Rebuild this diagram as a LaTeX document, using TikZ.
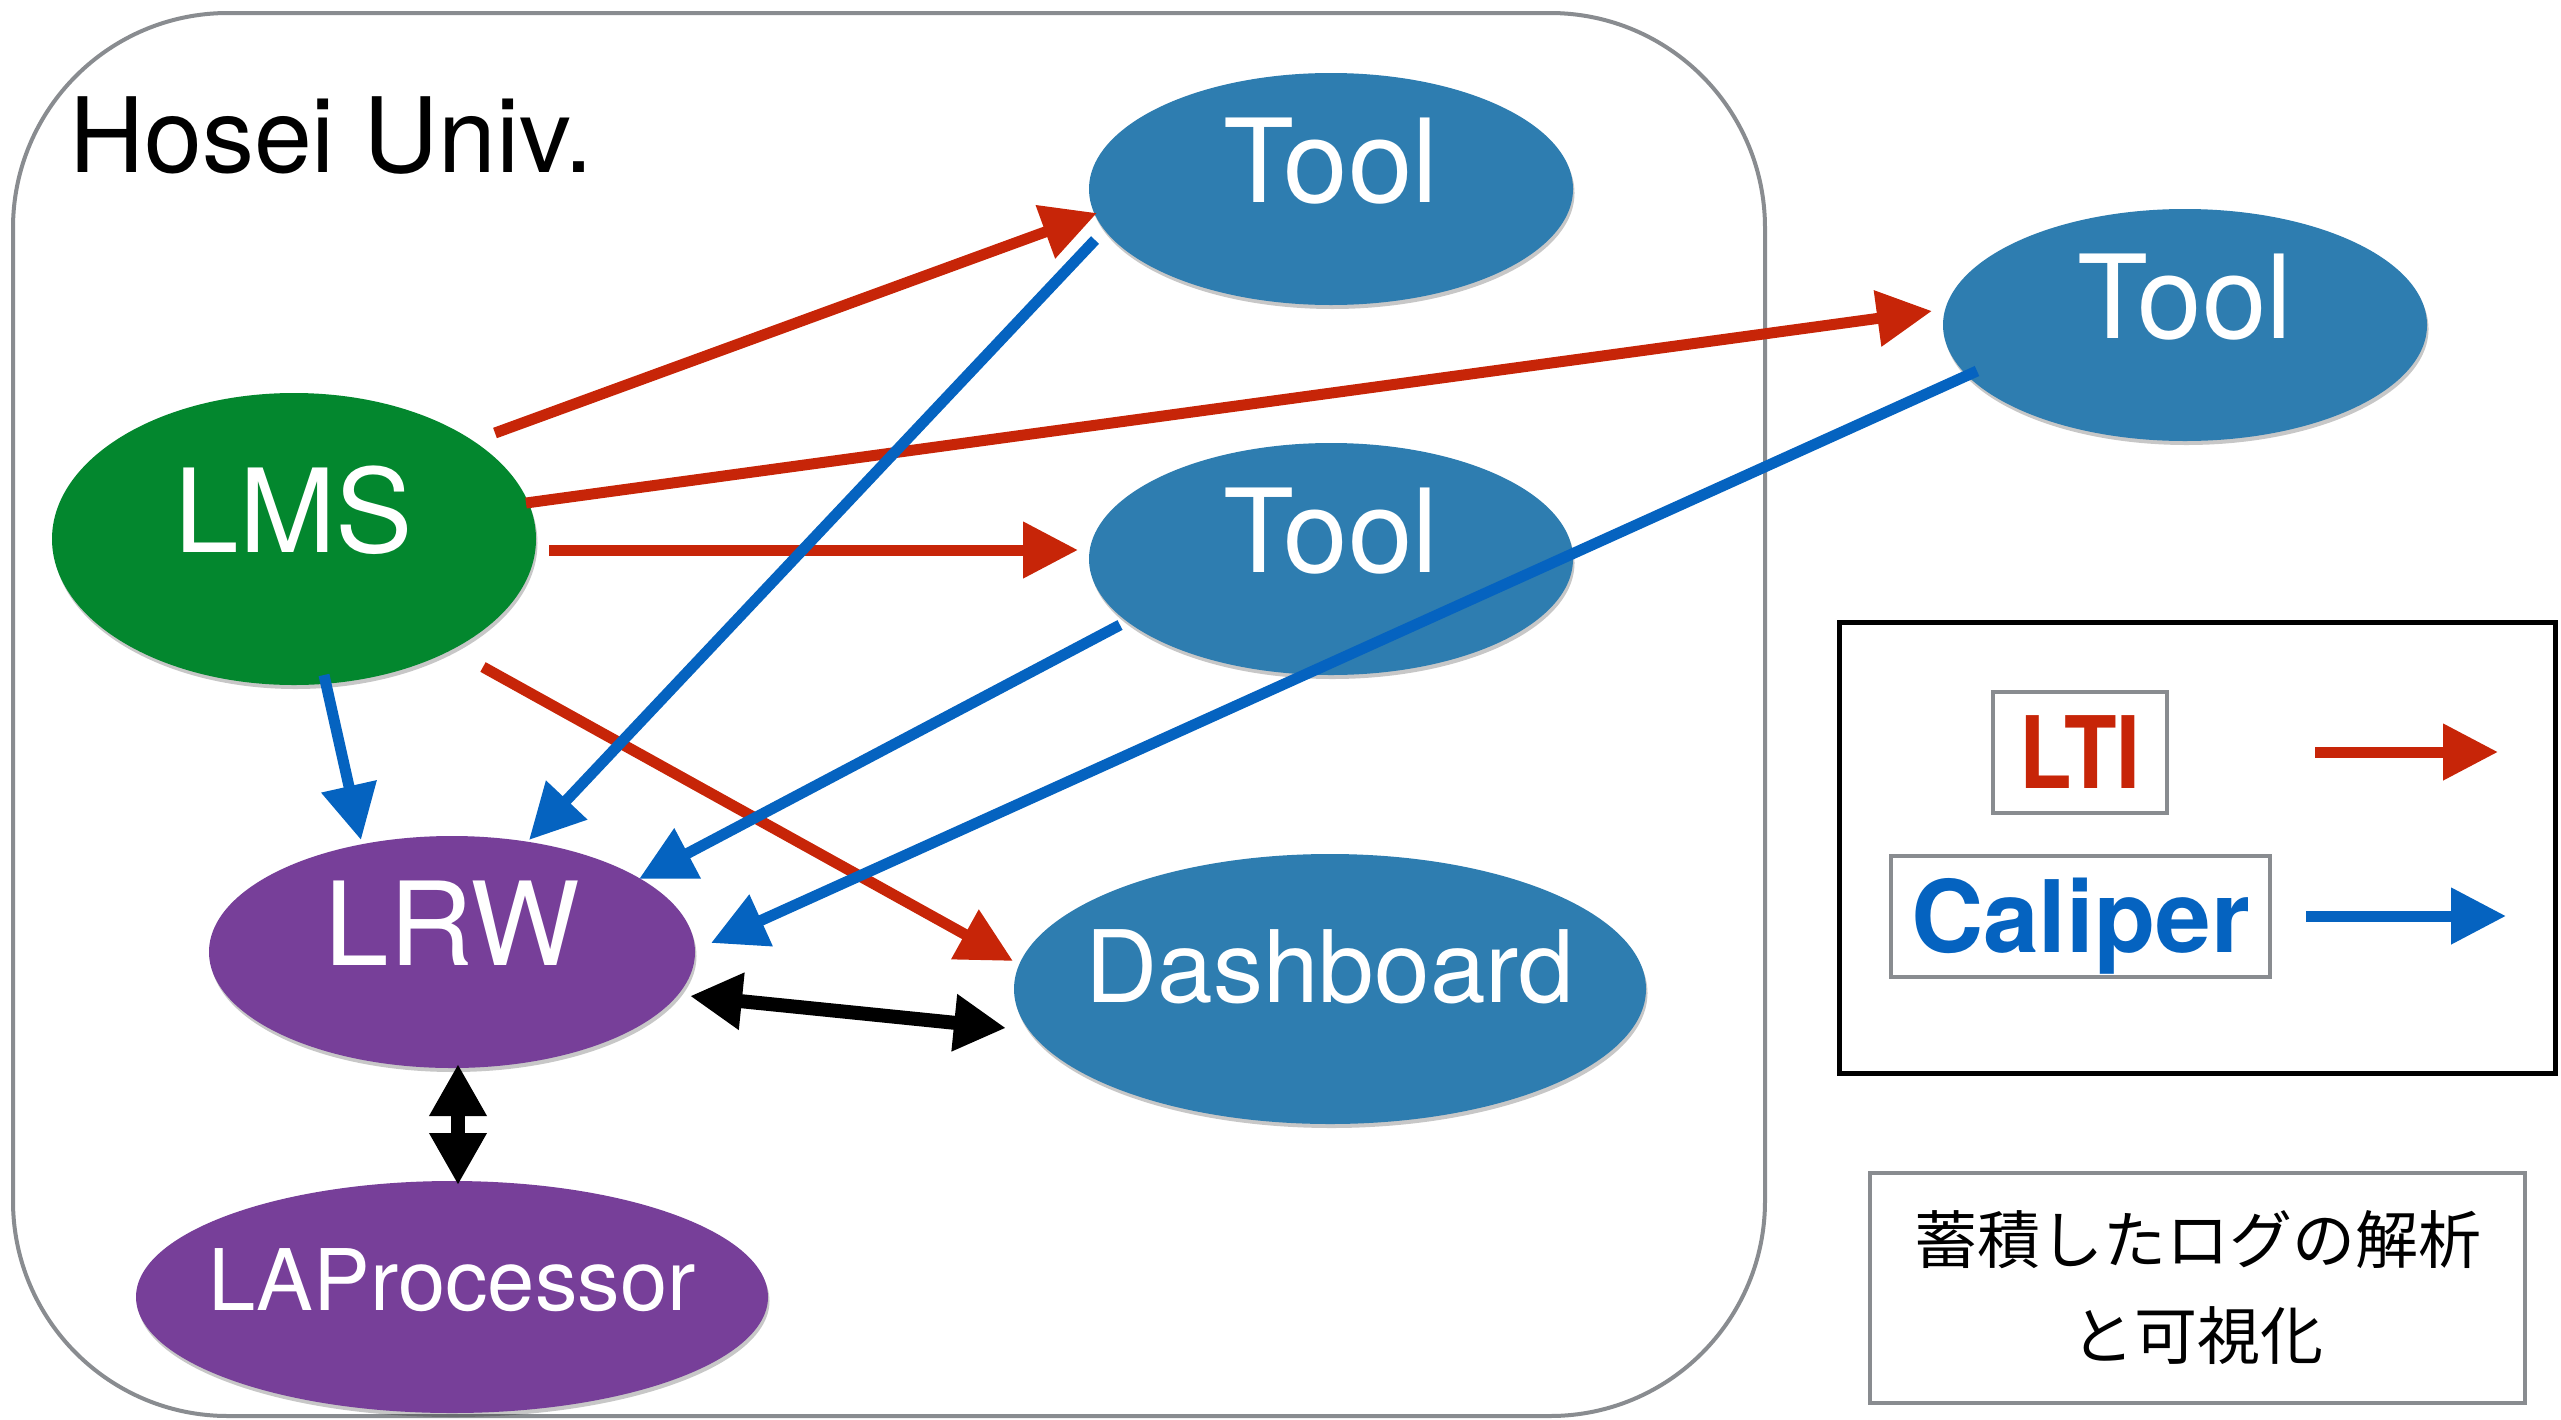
\documentclass[tikz,border=0pt]{standalone}
\usepackage{fontspec}
\usepackage{graphicx}
\setmainfont{TeX Gyre Heros}
\newfontfamily\jpfont{Noto Sans CJK JP}
\usetikzlibrary{shapes.geometric,arrows.meta,shadows}
\definecolor{toolblue}{RGB}{46,125,176}
\definecolor{lmsgreen}{RGB}{3,135,46}
\definecolor{lrwpurple}{RGB}{119,63,153}
\definecolor{ltired}{RGB}{199,37,8}
\definecolor{calblue}{RGB}{5,99,192}
\definecolor{framegray}{RGB}{137,140,144}
\newcommand{\nodetext}[1]{\raisebox{-13pt}[0pt][0pt]{\makebox[0pt]{#1}}}
\begin{document}
\begin{tikzpicture}[x=1pt,y=-1pt,
  ell/.style={ellipse, inner sep=0pt, outer sep=0pt, text=white,
    drop shadow={shadow xshift=1.5pt, shadow yshift=-4pt, opacity=0.22, fill=black}},
  bigtext/.style={font=\fontsize{116}{120}\selectfont},
  toolnode/.style={ell, bigtext, fill=toolblue, minimum width=484pt, minimum height=232pt},
  lmsnode/.style={ell, bigtext, fill=lmsgreen, minimum width=484pt, minimum height=292pt},
  lrwnode/.style={ell, bigtext, fill=lrwpurple, minimum width=486pt, minimum height=232pt},
  dashnode/.style={ell, fill=toolblue, minimum width=632pt, minimum height=270pt, font=\fontsize{100}{110}\selectfont},
  lapnode/.style={ell, fill=lrwpurple, minimum width=632pt, minimum height=232pt, font=\fontsize{85}{95}\selectfont},
  ltiarrow/.style={draw=ltired, line width=11pt, -{Triangle[length=55pt,width=54pt]}},
  caliarrow/.style={draw=calblue, line width=11pt, -{Triangle[length=55pt,width=54pt]}},
  bothway/.style={draw=black, line width=14pt, {Triangle[length=52pt,width=54pt]}-{Triangle[length=52pt,width=54pt]}},
  keybox/.style={draw=framegray, line width=4pt, minimum height=121pt, inner sep=0pt,
    font=\bfseries\fontsize{100}{100}\selectfont, text height=72pt, text depth=0pt}
]
\useasboundingbox (0,0) rectangle (2561,1419);
\fill[white] (0,0) rectangle (2561,1419);

% institution frame
\draw[framegray, line width=4pt, rounded corners=215pt] (13,13) rectangle (1765,1416);
\node[anchor=base west, inner sep=0pt, font=\fontsize{104}{110}\selectfont] (hosei) at (69,172) {Hosei Univ.};

% nodes
\node[toolnode] (tool1) at (1331,189) {\nodetext{Tool}};
\node[toolnode] (tool2) at (2185,325) {\nodetext{Tool}};
\node[toolnode] (tool3) at (1331,559) {\nodetext{Tool}};
\node[lmsnode] (lms) at (294,539) {\nodetext{LMS}};
\node[lrwnode] (lrw) at (452,952) {\nodetext{LRW}};
\node[dashnode] (dash) at (1330,989) {\nodetext{Dashboard}};
\node[lapnode] (lap) at (452,1297) {\nodetext{LAProcessor}};

% LTI connectors
\draw[ltiarrow] ([shift={(201,-106)}]lms.center) -- ([shift={(-234,24)}]tool1.center);
\draw[ltiarrow] ([shift={(232,-36)}]lms.center) -- ([shift={(-253,-14)}]tool2.center);
\draw[ltiarrow] ([shift={(255,11)}]lms.center) -- ([shift={(-253,-9)}]tool3.center);
\draw[ltiarrow] ([shift={(189,128)}]lms.center) -- ([shift={(-317,-28)}]dash.center);

% Caliper connectors
\draw[caliarrow] ([shift={(30,136)}]lms.center) -- ([shift={(-91,-112)}]lrw.center);
\draw[caliarrow] ([shift={(-236,51)}]tool1.center) -- ([shift={(77,-112)}]lrw.center);
\draw[caliarrow] ([shift={(-211,66)}]tool3.center) -- ([shift={(187,-73)}]lrw.center);
\draw[caliarrow] ([shift={(-208,46)}]tool2.center) -- ([shift={(259,-9)}]lrw.center);

% two-way connectors
\draw[bothway] ([shift={(238,44)}]lrw.center) -- ([shift={(-324,39)}]dash.center);
\draw[bothway] ([shift={(6,112)}]lrw.center) -- ([shift={(6,-112)}]lap.center);

% legend
\node[draw=black, line width=5pt, minimum width=716pt, minimum height=451pt, inner sep=0pt] (legend) at (2197,847.5) {};
\node[keybox, text=ltired, minimum width=174pt] (lti) at (2080,752.5) {\scalebox{0.86}[1]{LTI}};
\node[keybox, text=calblue, minimum width=379pt] (cal) at (2080.5,916.5) {Caliper};
\coordinate (ltiA) at (2315,752);
\coordinate (ltiB) at (2498,752);
\coordinate (calA) at (2306,916);
\coordinate (calB) at (2506,916);
\draw[ltiarrow] (ltiA) -- (ltiB);
\draw[caliarrow] (calA) -- (calB);

% note
\node[draw=framegray, line width=4pt, minimum width=655pt, minimum height=230pt, inner sep=0pt,
  align=center, font=\jpfont\fontsize{63}{96}\selectfont] (note) at (2197.5,1288) {蓄積したログの解析\\と可視化};
\end{tikzpicture}
\end{document}
